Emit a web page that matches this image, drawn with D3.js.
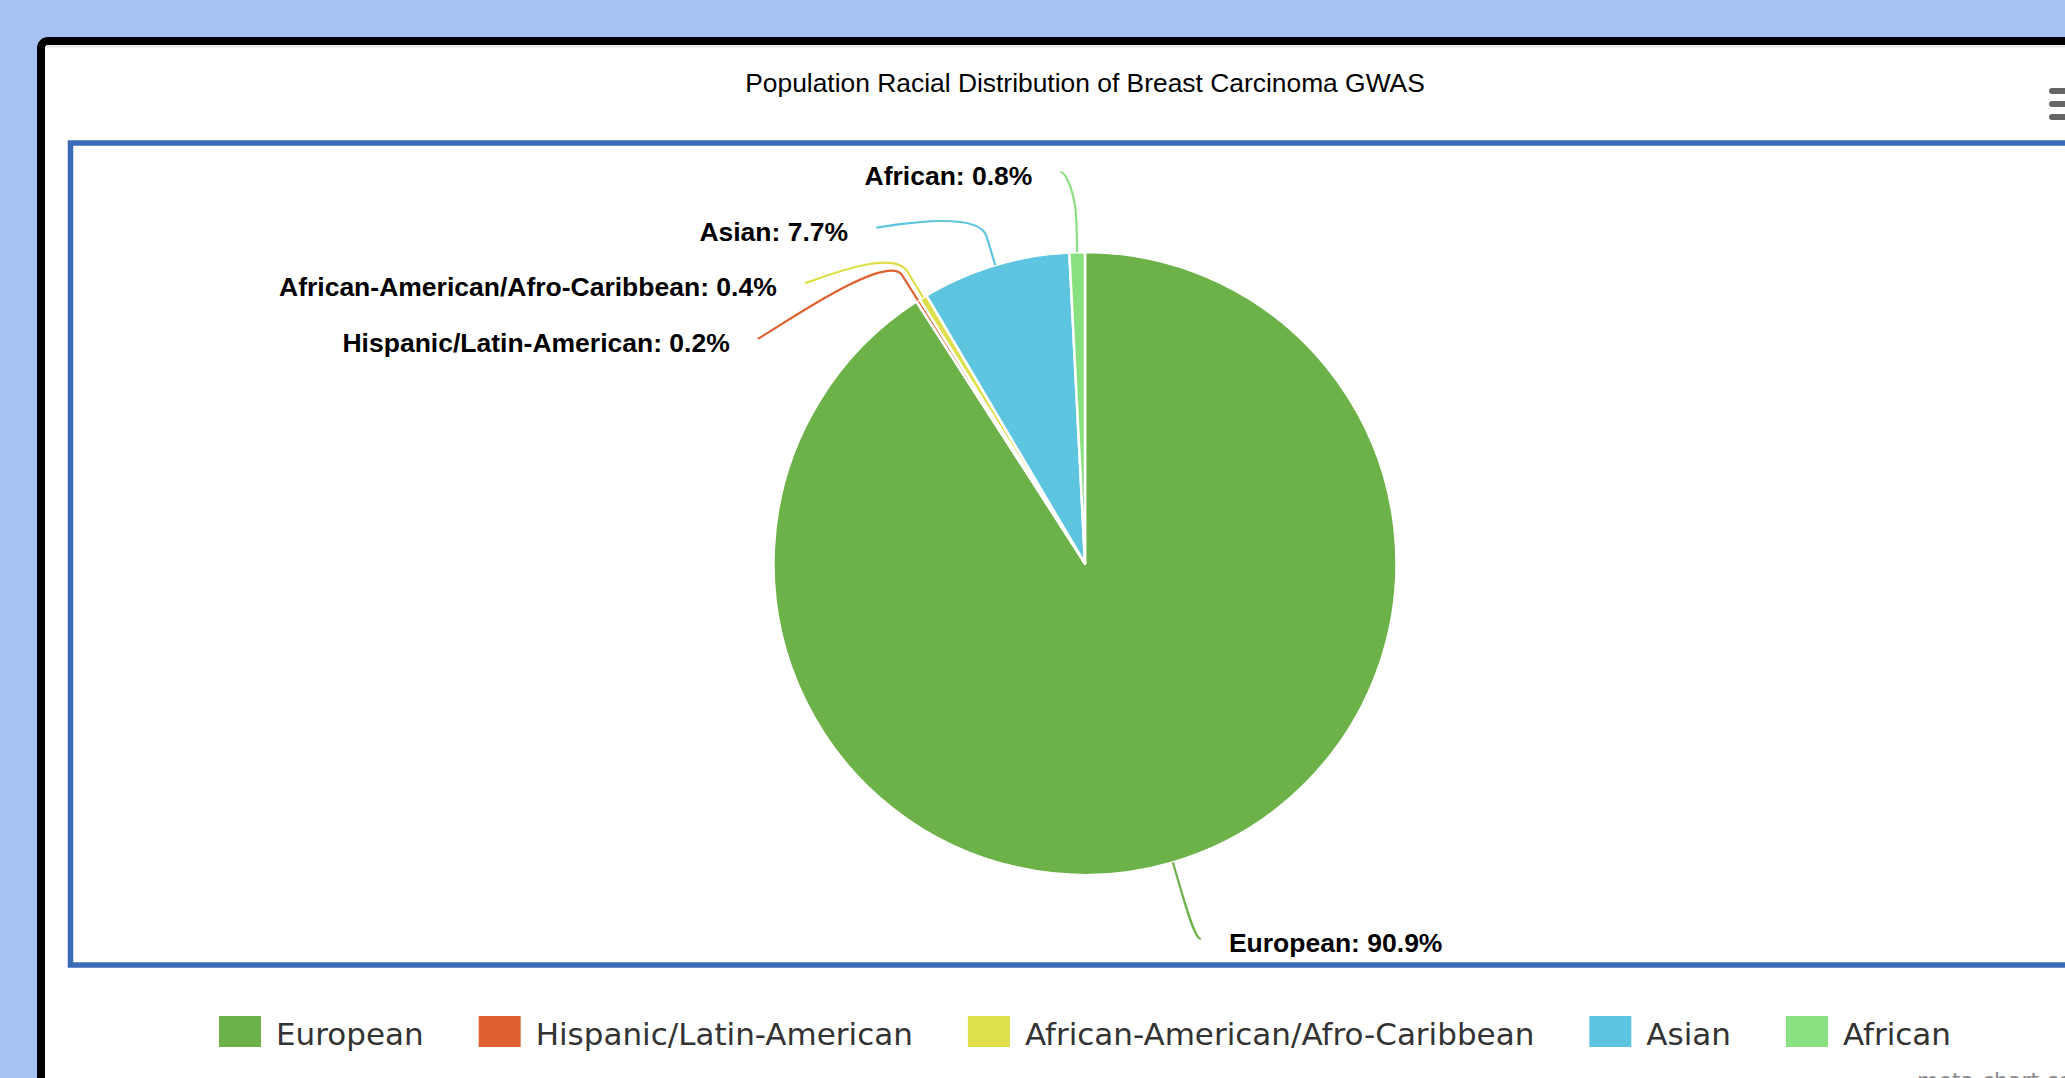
<!DOCTYPE html>
<html>
<head>
<meta charset="utf-8">
<script src="https://cdn.jsdelivr.net/npm/d3@7"></script>
<style>
  html, body { margin: 0; padding: 0; background: #a4c2f4; overflow: hidden; }
  svg { display: block; }
</style>
</head>
<body>
<svg id="chart" width="2065" height="1078"></svg>
<script>
// ---- data ----
const title = "Population Racial Distribution of Breast Carcinoma GWAS";
const categories = ["European", "Hispanic/Latin-American", "African-American/Afro-Caribbean", "Asian", "African"];
const values = [90.9, 0.2, 0.4, 7.7, 0.8];
const colors = ["#6cb248", "#e0602f", "#dedf49", "#5ec5e1", "#89e07f"];
const watermark = "meta-chart.com";

// ---- layout ----
const W = 2065, H = 1078;
const cx = 1085, cy = 563.5, r = 311.5;
const plotTop = 146, plotBottom = 962;
const labelRadius = 393, labelPad = 5, labelGap = 28, labelStep = 55.5;
const breakOffset = 30;

const svg = d3.select("#chart");

// frame
svg.append("rect").attr("x", 41).attr("y", 41).attr("width", 3000).attr("height", 2000)
  .attr("rx", 7).attr("fill", "#fff").attr("stroke", "#000").attr("stroke-width", 8);
svg.append("line").attr("x1", 46).attr("x2", W).attr("y1", 46.5).attr("y2", 46.5)
  .attr("stroke", "#e6e6e6").attr("stroke-width", 2);

// plot box
svg.append("rect").attr("x", 70.5).attr("y", 143).attr("width", 3000).attr("height", 822)
  .attr("fill", "none").attr("stroke", "#3a6bb6").attr("stroke-width", 5.5);

// title
svg.append("text").attr("x", cx).attr("y", 92).attr("text-anchor", "middle")
  .attr("font-family", "Liberation Sans, Arial, sans-serif").attr("font-size", 26.4)
  .attr("fill", "#000").text(title);

// menu icon
[91, 104, 117].forEach(y => {
  svg.append("rect").attr("x", 2049).attr("y", y - 3).attr("width", 40).attr("height", 6)
    .attr("rx", 3).attr("fill", "#666");
});

// pie
const data = categories.map((c, i) => ({ cat: c, value: values[i], color: colors[i] }));
const pie = d3.pie().sort(null).value(d => d.value);
const arcs = pie(data);
const arcGen = d3.arc().innerRadius(0).outerRadius(r);

const g = svg.append("g");
g.selectAll("path.slice").data(arcs).join("path")
  .attr("class", "slice")
  .attr("transform", `translate(${cx},${cy})`)
  .attr("d", arcGen)
  .attr("fill", d => d.data.color)
  .attr("stroke", "#fff").attr("stroke-width", 2.5).attr("stroke-linejoin", "round");

// labels layout
const pt = (a, rad) => ({ x: cx + rad * Math.sin(a), y: cy - rad * Math.cos(a) });
const items = arcs.map(d => {
  const a = (d.startAngle + d.endAngle) / 2;
  const nat = pt(a, labelRadius);
  return { d, a, left: Math.sin(a) < 0, natY: nat.y, natX: nat.x };
});
const topLimit = plotTop + 26, bottomLimit = plotBottom - 23;
function distribute(list) {
  list.sort((p, q) => p.natY - q.natY);
  let prev = -Infinity;
  list.forEach(it => {
    it.y = Math.max(it.natY, prev + labelStep, topLimit);
    prev = it.y;
  });
  let next = Infinity;
  for (let i = list.length - 1; i >= 0; i--) {
    list[i].y = Math.min(list[i].y, next - labelStep, bottomLimit);
    next = list[i].y;
  }
}
distribute(items.filter(i => i.left));
distribute(items.filter(i => !i.left));
items.forEach(it => {
  const dy = it.y - cy;
  const dx = Math.sqrt(Math.max(labelRadius * labelRadius - dy * dy, 0));
  const circX = it.left ? cx - dx - labelPad : cx + dx + labelPad;
  const shift = Math.abs(it.y - it.natY);
  it.x = shift < 10 ? (circX + it.natX) / 2 : circX;
});

// connectors
items.forEach(it => {
  const touch = pt(it.a, r);
  const brk = pt(it.a, r + breakOffset);
  const c2 = { x: 2 * brk.x - touch.x, y: 2 * brk.y - touch.y };
  const c1x = it.x + (it.left ? 5 : -5);
  const p = d3.path();
  p.moveTo(it.x, it.y);
  p.bezierCurveTo(c1x, it.y, c2.x, c2.y, brk.x, brk.y);
  p.lineTo(touch.x, touch.y);
  g.append("path").attr("d", p.toString()).attr("fill", "none")
    .attr("stroke", it.d.data.color).attr("stroke-width", 2.2);
});

// label texts
items.forEach(it => {
  g.append("text")
    .attr("x", it.left ? it.x - labelGap : it.x + labelGap)
    .attr("y", it.y + 13)
    .attr("text-anchor", it.left ? "end" : "start")
    .attr("font-family", "Liberation Sans, Arial, sans-serif")
    .attr("font-weight", "bold").attr("font-size", 26.5).attr("fill", "#000")
    .text(`${it.d.data.cat}: ${it.d.data.value}%`);
});

// legend
const legend = svg.append("g");
const swW = 42, swH = 31, swGap = 15, itemGap = 55, legendBase = 1045;
let lx = 0;
const legItems = data.map(d => {
  const gi = legend.append("g");
  gi.append("rect").attr("x", 0).attr("y", 1016).attr("width", swW).attr("height", swH).attr("fill", d.color);
  const t = gi.append("text").attr("x", swW + swGap).attr("y", legendBase)
    .attr("font-family", "DejaVu Sans, sans-serif").attr("font-size", 31).attr("fill", "#333")
    .text(d.cat);
  const w = swW + swGap + t.node().getComputedTextLength();
  return { gi, w };
});
const total = d3.sum(legItems, d => d.w) + itemGap * (legItems.length - 1);
lx = cx - total / 2;
legItems.forEach(it => {
  it.gi.attr("transform", `translate(${lx},0)`);
  lx += it.w + itemGap;
});

// watermark
svg.append("text").attr("x", 1917).attr("y", 1088)
  .attr("font-family", "DejaVu Sans, sans-serif").attr("font-size", 22).attr("fill", "#8a8a8a")
  .text(watermark);
</script>
</body>
</html>
